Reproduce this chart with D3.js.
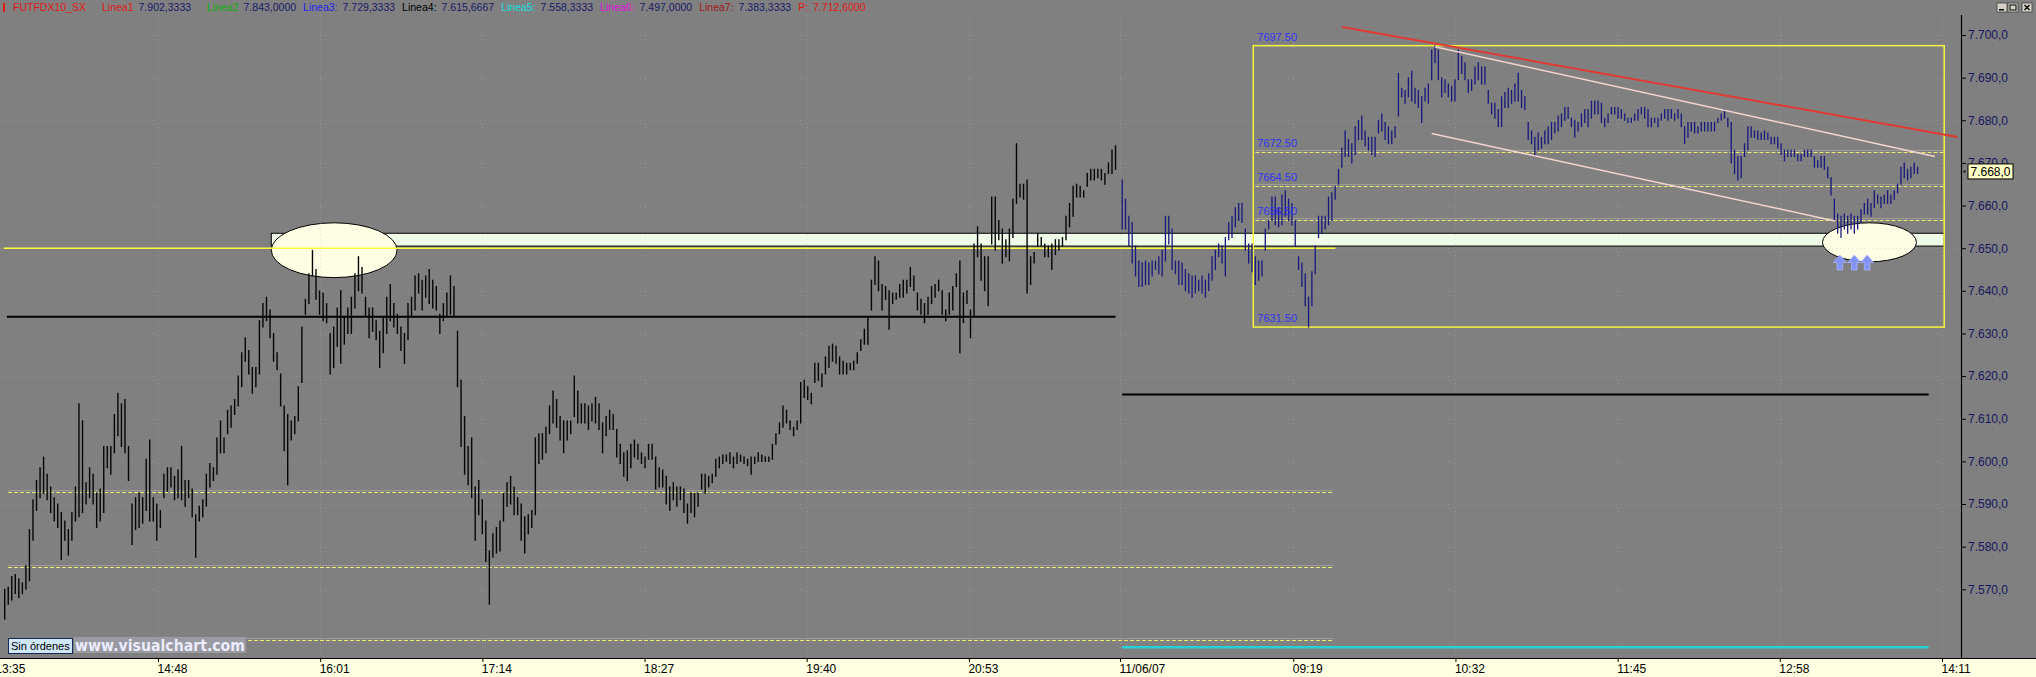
<!DOCTYPE html>
<html><head><meta charset="utf-8">
<script src="https://cdn.jsdelivr.net/npm/d3@7/dist/d3.min.js"></script>
<style>html,body{margin:0;padding:0;background:#808080;overflow:hidden}</style>
</head><body>
<svg id="c" width="2036" height="677"></svg>
<script>
// ---------------- DATA ----------------
const priceTicks = [7700,7690,7680,7670,7660,7650,7640,7630,7620,7610,7600,7590,7580,7570];
const timeLabels = ["13:35","14:48","16:01","17:14","18:27","19:40","20:53","11/06/07","09:19","10:32","11:45","12:58","14:11"];
const timeSlots  = [0,73,146,219,292,365,438,506,584,657,730,803,876]; // 1-minute bar slots

const session1Slots = [4, 504];
const session1High = [7570,7570.5,7573,7573.5,7572.5,7571.5,7575.5,7584,7591,7595.5,
7598.5,7601,7597,7594,7591.5,7590,7588,7586,7584,7588,
7594,7613.5,7609.5,7595,7598.5,7597,7592.5,7593.5,7603.5,7603.5,
7603.5,7611,7616,7613.5,7614.5,7603.5,7590,7591.5,7592.5,7591.5,
7600.5,7605,7591.5,7590,7588.5,7597,7598.5,7598.5,7596.5,7598,
7603.5,7595.5,7595.5,7593.5,7587.5,7589.5,7591,7597,7599.5,7598.5,
7605.5,7609.5,7605.5,7612,7613,7614.5,7620,7625.5,7629,7626,
7622,7622,7633,7637,7638.5,7635.5,7630,7625.5,7620.5,7613,
7611,7609.5,7610.5,7617.5,7631.5,7638,7644,7649.5,7645,7640,
7639.5,7637,7630,7631.5,7636,7640,7634,7636,7638.5,7644,
7648,7645.5,7638.5,7636,7636,7633,7630.5,7634,7638.5,7641.5,
7637,7634.5,7631.5,7630,7637,7638.5,7643.5,7644,7642.5,7643.5,
7645,7642.5,7641,7634.5,7637,7639.5,7643.5,7641,7630.5,7619,
7610.5,7603.5,7605.5,7594,7595.5,7591,7586,7579,7583,7584.5,
7586,7592.5,7595,7596.5,7594,7591.5,7590,7587,7587.5,7588.5,
7605.5,7606.5,7606.5,7608,7613,7616.5,7614.5,7610.5,
7609.5,7609.5,7609.5,7620,7616.5,7613.5,7613.5,7613,7613.5,7615,
7613.5,7609,7610.5,7612,7611,7607.5,7604,7602,7602.5,7604,
7605,7604,7602,7601,7604,7604,7601,7598.5,7598,7596.5,
7594,7595,7594,7594,7593.5,7590,7592.5,7592.5,7592.5,7597,
7597,7596.5,7597,7600.5,7601,7601.5,7601.5,7602,7601,7602,
7601.5,7601,7600.5,7601,7601,7602,7601.5,7601,7601,7604,
7606.5,7609,7613,7612,7609.5,7608,7609.5,7618.5,7619,7617.5,
7616,7623,7623,7620.5,7624.5,7627,7627.5,7627,7624.5,7623.5,
7623,7623,7623.5,7625.5,7628.5,7631,7634,7642.5,7648,7647,
7641.5,7641,7640,7639.5,7639.5,7641.5,7642.5,7642.5,7645.5,7643.5,
7639.5,7638,7637,7638.5,7641,7641.5,7642.5,7640,7635.5,7639.5,
7641,7644,7647,7639.5,7640,7635.5,7651,7655,7651,7648,
7648,7662,7662,7656.5,7654.5,7652,7654.5,7661.5,7674.5,7665,
7665,7666,7648,7649,7653.5,7652.5,7651,7650.5,7651,7652,
7652,7652.5,7657.5,7660.5,7664.5,7665,7664.5,7663.5,7667.5,7668.5,
7668.5,7668.5,7668.5,7667.5,7670,7673,7674];
const session1Low = [7563,7566.5,7567.5,7569,7568,7569,7570,7572,7581.5,7588.5,
7591.5,7592.5,7591,7588,7586,7584.5,7577,7581.5,7578,7581.5,
7586,7587,7588,7590,7591.5,7590,7584.5,7586,7588,7598.5,
7597,7602,7606,7603.5,7602,7595.5,7580.5,7584,7584.5,7585.5,
7588.5,7586,7586,7581.5,7584.5,7591.5,7593,7594,7591,7591.5,
7591,7589.5,7591.5,7587,7577.5,7586,7587,7589.5,7594,7595.5,
7597,7602,7602,7606.5,7608,7611,7613,7617.5,7623.5,7620.5,
7616,7617.5,7620.5,7631.5,7633,7629,7623.5,7621.5,7613,7602.5,
7594.5,7605,7606.5,7609.5,7618.5,7634.5,7637,7643.5,7638,7634.5,
7633,7632.5,7620.5,7622,7627,7623,7627.5,7630,7630,7636,
7640,7639.5,7634,7629,7630.5,7628.5,7622,7625.5,7630,7633,
7631.5,7630,7626,7623,7628.5,7634,7635.5,7639.5,7635.5,7638.5,
7637,7636,7635.5,7630,7633,7634,7634.5,7634,7617.5,7603.5,
7597,7594.5,7591.5,7581.5,7587.5,7583,7576.5,7566.5,7577.5,7578.5,
7579,7586,7589.5,7590,7587.5,7587.5,7581.5,7578.5,7583,7584.5,
7587.5,7599.5,7600.5,7602,7606.5,7609,7608,7605,
7602,7605,7606.5,7610.5,7609,7609,7609,7607.5,7609.5,7609,
7607.5,7602,7606,7607.5,7607.5,7601,7599.5,7596.5,7595.5,7598.5,
7601,7600.5,7599.5,7598.5,7600.5,7600.5,7593.5,7594,7594,7590,
7588.5,7591,7589.5,7591,7588,7585.5,7588,7587,7589.5,7593.5,
7592.5,7594,7595,7596.5,7598.5,7599.5,7600,7599.5,7598.5,7599.5,
7600,7599.5,7599,7597,7599.5,7600,7600,7600,7600,7600.5,
7604,7606.5,7608,7609,7607.5,7606,7607.5,7609,7615,7614.5,
7613.5,7618.5,7619,7617.5,7620.5,7622,7623.5,7623,7620.5,7620.5,
7620.5,7621.5,7621.5,7623,7626,7627.5,7627.5,7635.5,7641.5,7640,
7635.5,7638,7631,7637,7638,7638.5,7638.5,7639.5,7641,7640,
7635.5,7634.5,7632.5,7634.5,7637,7638.5,7640,7634.5,7633,7634.5,
7635.5,7641,7625.5,7632.5,7637,7629,7634,7648,7642.5,7640,
7636.5,7651,7649.5,7652,7646.5,7648,7647,7652.5,7660.5,7662,
7661.5,7639.5,7641.5,7646.5,7650.5,7650.5,7648,7648,7645,7648.5,
7649.5,7650.5,7652,7655,7657.5,7662,7662,7662,7664.5,7666,
7666,7666.5,7666,7665,7667.5,7667.5,7668.5];

const session2Slots = [507, 865];
const session2High = [7666,7661.5,7657.5,7656,7650.5,7647,7646.5,7647,7646.5,7647,
7647,7648,7649.5,7657.5,7657.5,7654.5,7647,7647,7646.5,7645,
7644,7643.5,7643.5,7642.5,7643.5,7642.5,7644,7648,7649.5,7651,
7650.5,7652.5,7656,7657.5,7659.5,7660.5,7660.5,7654.5,7651,7651,
7648,7647,7647,7654.5,7656.5,7662,7662,7659.5,7662.5,7663.5,
7661.5,7660.5,7656.5,7648,7646.5,7644,7638.5,7644.5,7650.5,7657.5,
7657.5,7657.5,7662,7663,7664.5,7668.5,7673.5,7677.5,7675.5,7674.5,
7678.5,7680,7681,7677.5,7676,7676,7676,7680,7681.5,7679.5,
7678.5,7677.5,7678.5,7691,7687.5,7687,7690,7691.5,7687.5,7687,
7685.5,7687.5,7688.5,7696.5,7697.5,7696.5,7690,7689.5,7688.5,7688,
7689.5,7696.5,7695,7693.5,7689.5,7689.5,7692.5,7693.5,7692.5,7692.5,
7687,7684,7684,7682.5,
7685.5,7686.5,7687.5,7687,7688.5,7691,7687,7685.5,7679.5,7677.5,
7676,7677,7676,7677.5,7678.5,7679.5,7679.5,7681,7681.5,7683,
7683,7680.5,7680,7679.5,7681.5,7682.5,7682.5,7684.5,7684.5,7684.5,
7684,7680.5,7681.5,7683,7683,7683,7682.5,7681.5,7680.5,7680.5,
7681.5,7682.5,7683,7683,7682.5,7680.5,7680.5,7680.5,7681.5,7682.5,
7682.5,7682.5,7681.5,7682.5,7681.5,7678.5,7679.5,7679.5,7679.5,7678.5,
7679.5,7679.5,7679.5,7679.5,7679.5,7680.5,7681.5,7682.5,7680.5,7679.5,
7673,7671.5,7671.5,7674.5,7678.5,7678.5,7677.5,7677.5,7677,7677.5,
7677,7676,7676,7676,7674.5,7673,7673,7673,7673,7672,
7672,7673,7673,7673,7671.5,7670.5,7671.5,7671.5,7669,7666.5,
7661.5,7658,7657.5,7658,7657.5,7658,7657.5,7657.5,7659,7660.5,
7661.5,7660.5,7663.5,7662.5,7662,7662.5,7663.5,7662.5,7663.5,7665,
7669,7670,7668.5,7669,7670,7669];
const session2Low = [7654.5,7654.5,7650.5,7646.5,7643.5,7641,7641,7641.5,7641.5,7643.5,
7645,7644,7643.5,7647,7651,7645,7644,7641.5,7641.5,7640,
7639.5,7638.5,7639.5,7640,7639.5,7638.5,7640,7642.5,7645,7648,
7646.5,7643.5,7652,7652.5,7655,7656.5,7656,7649.5,7646.5,7644.5,
7641.5,7642.5,7643.5,7649.5,7654.5,7656.5,7655.5,7655,7655.5,7657.5,
7656.5,7655.5,7650.5,7645,7641,7636.5,7631.5,7636.5,7644,7652.5,
7653.5,7654.5,7655.5,7656.5,7661.5,7665,7669,7671.5,7671.5,7670,
7672,7675.5,7675.5,7674,7673,7672,7671.5,7677,7677.5,7675.5,
7674.5,7674.5,7676,7681,7685.5,7684,7685.5,7684.5,7684,7683,
7679.5,7684.5,7684,7689.5,7693.5,7689.5,7685.5,7686.5,7685.5,7684.5,
7684.5,7689.5,7691,7689.5,7686.5,7687,7688.5,7689.5,7688.5,7688.5,
7684,7681.5,7680.5,7678.5,
7678.5,7683,7683,7684,7684.5,7684.5,7683,7682.5,7675.5,7674.5,
7671.5,7673,7673.5,7674.5,7674.5,7675.5,7677,7677.5,7678.5,7680,
7680.5,7678.5,7676,7677.5,7678.5,7679.5,7678.5,7680.5,7681.5,7681.5,
7679.5,7678.5,7679.5,7681.5,7681.5,7680.5,7680.5,7680,7679.5,7679.5,
7680,7680,7681.5,7680.5,7678.5,7678.5,7679.5,7678.5,7680,7680.5,
7680,7680.5,7680,7680.5,7678.5,7674.5,7676,7677.5,7677,7677,
7677.5,7677.5,7677.5,7677.5,7677.5,7679.5,7680,7680.5,7678.5,7670,
7667.5,7666,7666.5,7671.5,7673,7676,7676,7675.5,7675.5,7675.5,
7675.5,7674.5,7674.5,7673.5,7672,7670.5,7671.5,7671.5,7671.5,7670.5,
7670.5,7671.5,7671.5,7671.5,7669,7669,7669,7668.5,7666.5,7662.5,
7656.5,7653.5,7652.5,7654.5,7653.5,7654.5,7653.5,7654.5,7656,7658,
7658,7657.5,7659.5,7660.5,7659.5,7660.5,7660.5,7660.5,7661.5,7663,
7665,7666.5,7666,7666.5,7667.5,7667.5];
const lastPrice = 7668.0;

// drawn studies (price levels / time slots)
const supportLevel = 7650, supportSlots = [3.5, 603];
const zoneBand = [7650.5, 7653.5], zoneSlots = [124, 877];
const blackLevels = [7633.9, 7615.67];
const blackSlots = [[5, 504], [507, 870]];
const cyanLevel = 7556.4, cyanSlots = [507, 870];
const dashedLevels1 = [7592.8, 7575.2, 7558.0], dashedSlots1 = [5.5, 602];
const rangeBox = [7697.5, 7631.5], rangeSlots = [566, 877];
const rangeLevels = [7697.5, 7672.5, 7664.5, 7656.5, 7631.5];
const rangeDashed = [7672.5, 7664.5, 7656.5];
const ellipses = [[124, 180.6, 7655.95, 7643.1], [822.2, 864.5, 7655.95, 7646.8]];
const arrowSlots = [830, 836.5, 842.3], arrowPrices = [7648.4, 7644.9];
const redLine = [[606, 7701.9], [883, 7676.1]];
const channelUpper = [[647.7, 7697.25], [872.8, 7671.5]];
const channelLower = [[646.3, 7676.9], [827.8, 7656.4]];

const headerNames  = ["FUTFDX10_SX", "Linea1", "Linea2", "Linea3:", "Linea4:", "Linea5:", "Linea6:", "Linea7:", "P:"];
const headerValues = ["", "7.902,3333", "7.843,0000", "7.729,3333", "7.615,6667", "7.558,3333", "7.497,0000", "7.383,3333", "7.712,6000"];
const headerNameColors = ["#e01818", "#e01818", "#10b010", "#2424f0", "#000000", "#10e0e0", "#e010e0", "#a01818", "#e01818"];

// ---------------- CHART ----------------
const FONT = "'Liberation Sans', Arial, sans-serif";
const svg = d3.select('#c');
const x = d3.scaleLinear().domain([0, 876]).range([-4.2, 1942]);
const y = d3.scaleLinear().domain([7570, 7700]).range([589.3, 35]);
const AX = 1961, PB = 658, PT = 15;

svg.append('rect').attr('width', 2036).attr('height', 677).attr('fill', '#808080');
svg.append('defs').append('clipPath').attr('id', 'plot')
  .append('rect').attr('x', 0).attr('y', PT).attr('width', AX).attr('height', PB - PT);
const g = svg.append('g').attr('clip-path', 'url(#plot)');

// zone band
g.append('rect')
  .attr('x', x(zoneSlots[0])).attr('width', x(zoneSlots[1]) - x(zoneSlots[0]))
  .attr('y', y(zoneBand[1])).attr('height', y(zoneBand[0]) - y(zoneBand[1]))
  .attr('fill', '#effbe8').attr('stroke', '#000').attr('stroke-width', 1);

// ellipses
g.selectAll('ellipse.e').data(ellipses).join('ellipse')
  .attr('cx', d => (x(d[0]) + x(d[1])) / 2).attr('cy', d => (y(d[2]) + y(d[3])) / 2)
  .attr('rx', d => (x(d[1]) - x(d[0])) / 2).attr('ry', d => (y(d[3]) - y(d[2])) / 2)
  .attr('fill', '#fefee4').attr('stroke', '#000').attr('stroke-width', 1);

// grid (faint dotted)
g.selectAll('line.gx').data(timeSlots.slice(1)).join('line')
  .attr('x1', d => Math.round(x(d)) + 0.5).attr('x2', d => Math.round(x(d)) + 0.5)
  .attr('y1', PT).attr('y2', PB)
  .attr('stroke', '#b8b8a8').attr('stroke-opacity', 0.35).attr('stroke-dasharray', '1,3');
g.selectAll('line.gy').data(priceTicks).join('line')
  .attr('x1', 0).attr('x2', AX)
  .attr('y1', d => Math.round(y(d)) + 0.5).attr('y2', d => Math.round(y(d)) + 0.5)
  .attr('stroke', '#b8b8a8').attr('stroke-opacity', 0.35).attr('stroke-dasharray', '1,3');

// dashed levels (double line look)
function dashedLevel(p, s0, s1) {
  const yy = Math.round(y(p)) + 0.5;
  g.append('line').attr('x1', x(s0)).attr('x2', x(s1)).attr('y1', yy - 2).attr('y2', yy - 2)
    .attr('stroke', '#9c9c94').attr('stroke-width', 1);
  g.append('line').attr('x1', x(s0)).attr('x2', x(s1)).attr('y1', yy).attr('y2', yy)
    .attr('stroke', '#ecec70').attr('stroke-width', 1).attr('stroke-dasharray', '4,2');
}
dashedLevels1.forEach(p => dashedLevel(p, dashedSlots1[0], dashedSlots1[1]));
rangeDashed.forEach(p => dashedLevel(p, rangeSlots[0] + 1, rangeSlots[1]));

// support yellow line
g.append('line').attr('x1', x(supportSlots[0])).attr('x2', x(supportSlots[1]))
  .attr('y1', y(supportLevel)).attr('y2', y(supportLevel))
  .attr('stroke', '#ffff3a').attr('stroke-width', 1.5);

// black levels
blackLevels.forEach((p, i) => {
  g.append('line').attr('x1', x(blackSlots[i][0])).attr('x2', x(blackSlots[i][1]))
    .attr('y1', y(p)).attr('y2', y(p)).attr('stroke', '#000').attr('stroke-width', 2);
});
// cyan level
g.append('line').attr('x1', x(cyanSlots[0])).attr('x2', x(cyanSlots[1]))
  .attr('y1', y(cyanLevel)).attr('y2', y(cyanLevel)).attr('stroke', '#28d0d8').attr('stroke-width', 2.5);

// range box
g.append('rect')
  .attr('x', x(rangeSlots[0])).attr('width', x(rangeSlots[1]) - x(rangeSlots[0]))
  .attr('y', y(rangeBox[0])).attr('height', y(rangeBox[1]) - y(rangeBox[0]))
  .attr('fill', 'none').attr('stroke', '#f4f43c').attr('stroke-width', 1.5);

// price bars
function drawSession(hi, lo, slots, color, w) {
  const idx = d3.scaleLinear().domain([0, hi.length - 1]).range(slots);
  g.append('g').selectAll('line').data(hi).join('line')
    .attr('x1', (d, i) => x(idx(i))).attr('x2', (d, i) => x(idx(i)))
    .attr('y1', d => y(d) - 0.5).attr('y2', (d, i) => y(lo[i]) + 0.5)
    .attr('stroke', color).attr('stroke-width', w);
}
drawSession(session1High, session1Low, session1Slots, '#050505', 1.4);
drawSession(session2High, session2Low, session2Slots, '#18187e', 1.3);

// range labels
g.selectAll('text.rl').data(rangeLevels).join('text')
  .attr('x', x(rangeSlots[0]) + 4).attr('y', d => y(d) - 5)
  .attr('font-family', FONT).attr('font-size', 11).attr('fill', '#3434f0')
  .text(d => d.toFixed(2));

// trend lines
function tl(pts, color, w) {
  g.append('line').attr('x1', x(pts[0][0])).attr('y1', y(pts[0][1]))
    .attr('x2', x(pts[1][0])).attr('y2', y(pts[1][1]))
    .attr('stroke', color).attr('stroke-width', w);
}
tl(channelUpper, '#f2d4d0', 1.5);
tl(channelLower, '#f2d4d0', 1.5);
tl(redLine, '#e23a32', 2);

// arrows
g.selectAll('path.ar').data(arrowSlots).join('path')
  .attr('transform', d => `translate(${x(d)},${y(arrowPrices[0])})`)
  .attr('d', () => { const h = y(arrowPrices[1]) - y(arrowPrices[0]);
    return `M0,0 L6.5,${h*0.5} L2.8,${h*0.5} L2.8,${h} L-2.8,${h} L-2.8,${h*0.5} L-6.5,${h*0.5} Z`; })
  .attr('fill', '#8494f4').attr('stroke', '#a8b4ff').attr('stroke-width', 0.8);

// ---------- right price axis ----------
const loc = d3.formatLocale({decimal: ",", thousands: ".", grouping: [3], currency: ["", ""]});
const fmt = loc.format(",.1f");
const ya = svg.append('g').attr('transform', `translate(${AX},0)`)
  .call(d3.axisRight(y).tickValues(priceTicks).tickFormat(fmt).tickSize(5).tickPadding(2));
ya.select('.domain').remove();
ya.selectAll('line').attr('stroke', '#000');
ya.selectAll('text').attr('font-family', FONT).attr('font-size', 12).attr('fill', '#16165e');
svg.append('line').attr('x1', AX + 0.5).attr('x2', AX + 0.5).attr('y1', PT).attr('y2', PB)
  .attr('stroke', '#000').attr('stroke-width', 1.2);

// last price tag
const lp = svg.append('g').attr('transform', `translate(${AX + 7},${y(lastPrice)})`);
lp.append('rect').attr('x', 0).attr('y', -7.5).attr('width', 45).attr('height', 15)
  .attr('fill', '#ffffc4').attr('stroke', '#000').attr('stroke-width', 1);
lp.append('text').attr('x', 2.5).attr('y', 4.5).attr('font-family', FONT).attr('font-size', 12)
  .attr('fill', '#000').text(fmt(lastPrice));
svg.append('circle').attr('cx', AX + 3.5).attr('cy', y(lastPrice)).attr('r', 1.2).attr('fill', '#202020');

// ---------- bottom time axis ----------
svg.append('rect').attr('x', 0).attr('y', PB).attr('width', 2036).attr('height', 677 - PB).attr('fill', '#ffffe1');
const xa = svg.append('g').attr('transform', `translate(0,${PB})`)
  .call(d3.axisBottom(x).tickValues(timeSlots).tickFormat((d, i) => timeLabels[i]).tickSize(4));
xa.select('.domain').remove();
xa.selectAll('line').attr('stroke', '#000');
xa.selectAll('text').attr('text-anchor', 'start').attr('x', -1).attr('y', 6)
  .attr('font-family', FONT).attr('font-size', 12).attr('fill', '#000');
svg.append('line').attr('x1', 0).attr('x2', 2036).attr('y1', PB + 0.5).attr('y2', PB + 0.5)
  .attr('stroke', '#000').attr('stroke-width', 1.2);

// ---------- header (legend of study lines), laid out left to right ----------
svg.append('rect').attr('x', 3).attr('y', 3).attr('width', 2).attr('height', 9).attr('fill', '#e01818');
const hg = svg.append('g');
const nameStarts = [13, 102, 207, 300, 395, 495, 592, 691, 786];
let cursor = 0;
headerNames.forEach((nm, i) => {
  const nx = Math.max(nameStarts[i], cursor + 7);
  const t1 = hg.append('text').attr('x', nx).attr('y', 11).attr('font-family', FONT)
    .attr('font-size', 10.5).attr('fill', headerNameColors[i]).text(nm);
  cursor = nx + t1.node().getComputedTextLength();
  if (headerValues[i]) {
    const vx = cursor + 5;
    const t2 = hg.append('text').attr('x', vx).attr('y', 11).attr('font-family', FONT)
      .attr('font-size', 10.5).attr('fill', i === headerNames.length - 1 ? '#e01818' : '#1a1a66')
      .text(headerValues[i]);
    cursor = vx + t2.node().getComputedTextLength();
  }
});

// window buttons
const btn = svg.append('g').attr('transform', 'translate(1997,3)');
[0, 11, 25].forEach((bx, i) => {
  const b = btn.append('g').attr('transform', `translate(${bx},0)`);
  b.append('rect').attr('width', 10).attr('height', 9).attr('fill', '#d4d0c8')
    .attr('stroke', '#404040').attr('stroke-width', 0.8);
  if (i === 0) b.append('rect').attr('x', 2).attr('y', 6).attr('width', 5).attr('height', 1.5).attr('fill', '#000');
  if (i === 1) b.append('rect').attr('x', 2).attr('y', 2).attr('width', 6).attr('height', 5)
    .attr('fill', 'none').attr('stroke', '#000').attr('stroke-width', 1);
  if (i === 2) b.append('path').attr('d', 'M2.5,2 L7.5,7 M7.5,2 L2.5,7').attr('stroke', '#000').attr('stroke-width', 1.4);
});

// ---------- status / watermark ----------
svg.append('rect').attr('x', 8.5).attr('y', 638.5).attr('width', 64).attr('height', 15)
  .attr('fill', '#cfe7f6').attr('stroke', '#14285a').attr('stroke-width', 1);
svg.append('text').attr('x', 11).attr('y', 650).attr('font-family', FONT).attr('font-size', 11)
  .attr('fill', '#000').text('Sin órdenes');
svg.append('rect').attr('x', 74).attr('y', 637).attr('width', 172).attr('height', 16).attr('fill', '#9a9aa2');
svg.append('text').attr('x', 75).attr('y', 651).attr('font-family', "'DejaVu Sans', Verdana, sans-serif")
  .attr('font-weight', 'bold').attr('font-size', 15).attr('fill', '#ececff')
  .attr('textLength', 170).attr('lengthAdjust', 'spacingAndGlyphs').text('www.visualchart.com');
</script>
</body></html>
